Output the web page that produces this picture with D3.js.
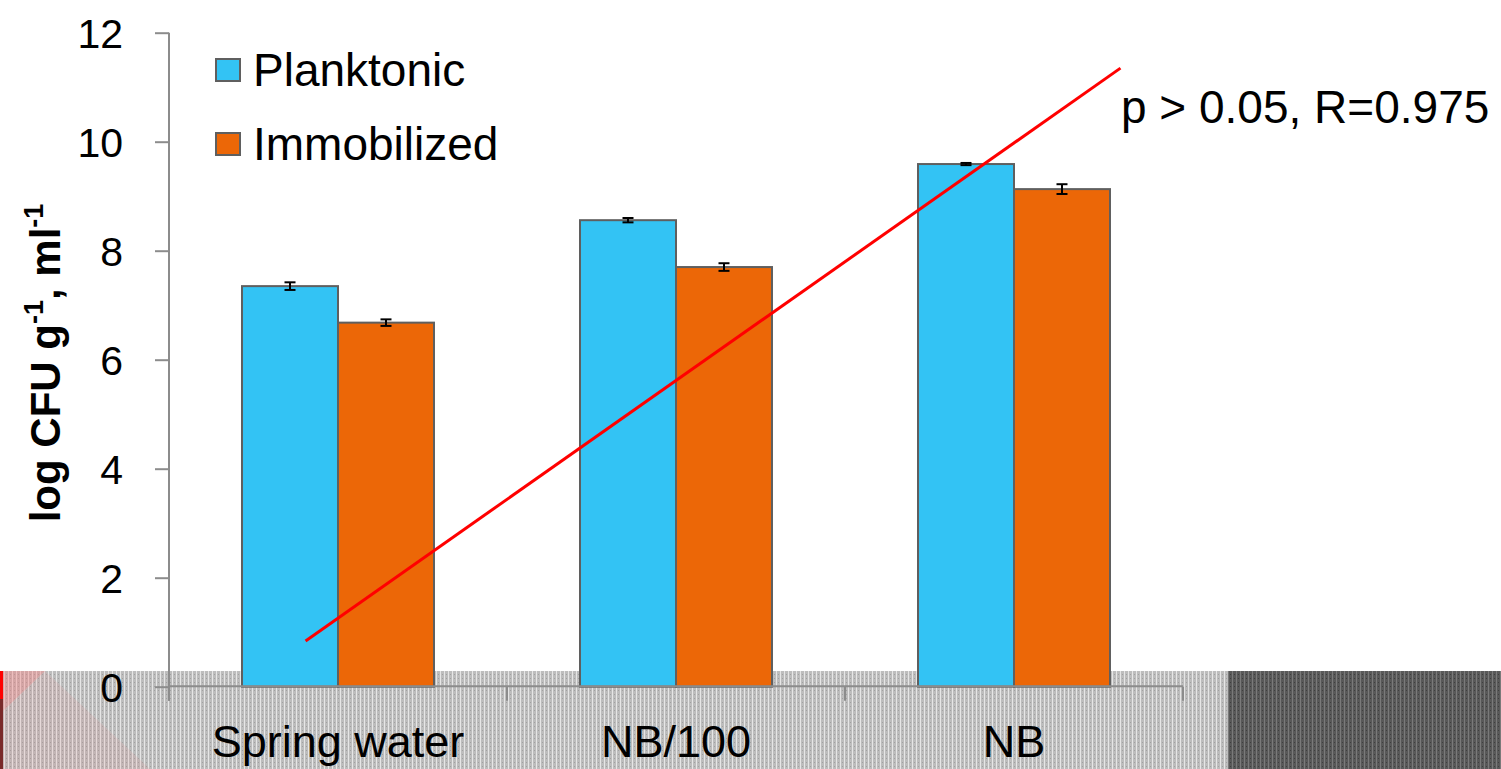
<!DOCTYPE html>
<html>
<head>
<meta charset="utf-8">
<script src="https://cdn.jsdelivr.net/npm/d3@7"></script>
<style>
  html, body { margin: 0; padding: 0; background: #ffffff; }
  svg { display: block; }
  text { font-family: "Liberation Sans", Arial, sans-serif; fill: #000; }
</style>
</head>
<body>
<svg id="chart" width="1501" height="769"></svg>
<script>
// ---------- data ----------
const categories = ["Spring water", "NB/100", "NB"];
const seriesNames = ["Planktonic", "Immobilized"];
const planktonic = [7.35, 8.56, 9.59];
const immobilized = [6.68, 7.70, 9.13];
const planktonicErr = [0.07, 0.04, 0.02];
const immobilizedErr = [0.06, 0.07, 0.09];
const yTicks = [0, 2, 4, 6, 8, 10, 12];
// trend line endpoints (x in category-index units, y in log CFU)
const trendX = [-0.096, 2.315];
const trendY = [0.84, 11.35];
const annotation = "p > 0.05, R=0.975";

const colors = ["#33c3f4", "#ec6707"];

// ---------- layout ----------
const svg = d3.select("#chart");
const W = 1501, H = 769;
const mLeft = 169, mRight = 1183, mTop = 32.7, mBottom = 686.7;

// background artefact band at bottom
const defs = svg.append("defs");
const bg = svg.append("g");
const pl = defs.append("pattern").attr("id", "pl").attr("width", 4).attr("height", 4).attr("patternUnits", "userSpaceOnUse");
pl.append("rect").attr("width", 4).attr("height", 4).attr("fill", "#bdbdbd");
pl.append("rect").attr("x", 0).attr("y", 0).attr("width", 1).attr("height", 4).attr("fill", "#e6e6e6");
pl.append("rect").attr("x", 2).attr("y", 2).attr("width", 1).attr("height", 1).attr("fill", "#a0a0a0");
const pd = defs.append("pattern").attr("id", "pd").attr("width", 4).attr("height", 4).attr("patternUnits", "userSpaceOnUse");
pd.append("rect").attr("width", 4).attr("height", 4).attr("fill", "#595959");
pd.append("rect").attr("x", 0).attr("y", 0).attr("width", 1).attr("height", 4).attr("fill", "#7a7a7a");
pd.append("rect").attr("x", 2).attr("y", 2).attr("width", 1).attr("height", 1).attr("fill", "#3e3e3e");

bg.append("rect").attr("x", 0).attr("y", 671).attr("width", 1228).attr("height", H - 671).attr("fill", "url(#pl)");
bg.append("rect").attr("x", 1228).attr("y", 671).attr("width", W - 1228).attr("height", H - 671).attr("fill", "url(#pd)");
bg.append("path").attr("d", "M0,671 L45,671 L150,769 L0,769 Z").attr("fill", "#e88080").attr("opacity", 0.13);
bg.append("path").attr("d", "M0,671 L45,671 L3,711 Z").attr("fill", "#ff8080").attr("opacity", 0.3);
bg.append("rect").attr("x", 0).attr("y", 671).attr("width", 3).attr("height", 28).attr("fill", "#ff0000");
bg.append("rect").attr("x", 0).attr("y", 699).attr("width", 3).attr("height", H - 699).attr("fill", "#7a2a2a");

// ---------- scales ----------
const x0 = d3.scaleBand().domain(categories).range([mLeft, mRight]).paddingInner(0.432).paddingOuter(0.216);
const x1 = d3.scaleBand().domain(seriesNames).range([0, x0.bandwidth()]).padding(0);
const y = d3.scaleLinear().domain([0, 12]).range([mBottom, mTop]);
const step = x0.step();
const xLin = d3.scaleLinear().domain([0, 2]).range([x0(categories[0]) + x0.bandwidth() / 2, x0(categories[2]) + x0.bandwidth() / 2]);

// ---------- y axis ----------
const yAxis = svg.append("g").attr("transform", `translate(${mLeft},0)`)
  .call(d3.axisLeft(y).tickValues(yTicks).tickSize(14).tickSizeOuter(0).tickPadding(32).tickFormat(d3.format("d")));
yAxis.select(".domain").attr("stroke", "#8c8c8c").attr("stroke-width", 2).attr("d", `M0,${mTop}V${mBottom + 14}`);
yAxis.selectAll(".tick line").attr("stroke", "#8c8c8c").attr("stroke-width", 2);
yAxis.selectAll(".tick text").attr("font-size", 41).attr("font-family", "Liberation Sans, Arial, sans-serif").attr("fill", "#000").attr("dy", "0.36em");

// ---------- bars ----------
const rows = categories.map((c, i) => ({
  cat: c,
  vals: [
    { s: seriesNames[0], v: planktonic[i], e: planktonicErr[i], c: colors[0] },
    { s: seriesNames[1], v: immobilized[i], e: immobilizedErr[i], c: colors[1] }
  ]
}));

const groups = svg.append("g").selectAll("g").data(rows).join("g")
  .attr("transform", d => `translate(${x0(d.cat)},0)`);
groups.selectAll("rect").data(d => d.vals).join("rect")
  .attr("x", d => x1(d.s))
  .attr("y", d => y(d.v))
  .attr("width", x1.bandwidth())
  .attr("height", d => y(0) - y(d.v))
  .attr("fill", d => d.c)
  .attr("stroke", "#5f5f5f")
  .attr("stroke-width", 2);

// error bars
const eb = groups.selectAll("g.err").data(d => d.vals).join("g").attr("class", "err");
eb.append("line")
  .attr("x1", d => x1(d.s) + x1.bandwidth() / 2).attr("x2", d => x1(d.s) + x1.bandwidth() / 2)
  .attr("y1", d => y(d.v + d.e)).attr("y2", d => y(d.v - d.e))
  .attr("stroke", "#000").attr("stroke-width", 2);
eb.selectAll("line.cap").data(d => [{ d, t: d.v + d.e }, { d, t: d.v - d.e }]).join("line").attr("class", "cap")
  .attr("x1", o => x1(o.d.s) + x1.bandwidth() / 2 - 5.5).attr("x2", o => x1(o.d.s) + x1.bandwidth() / 2 + 5.5)
  .attr("y1", o => y(o.t)).attr("y2", o => y(o.t))
  .attr("stroke", "#000").attr("stroke-width", 2);

// ---------- x axis ----------
const xg = svg.append("g");
xg.append("line").attr("x1", mLeft).attr("x2", mRight).attr("y1", mBottom - 0.5).attr("y2", mBottom - 0.5)
  .attr("stroke", "#8c8c8c").attr("stroke-width", 2);
const boundaries = categories.map(c => x0(c) - x0.paddingOuter() * step).concat([mRight]);
xg.selectAll("line.tk").data(boundaries).join("line").attr("class", "tk")
  .attr("x1", d => d).attr("x2", d => d).attr("y1", mBottom).attr("y2", mBottom + 14)
  .attr("stroke", "#8c8c8c").attr("stroke-width", 2);
xg.selectAll("text").data(categories).join("text")
  .attr("x", d => x0(d) + x0.bandwidth() / 2)
  .attr("y", 757)
  .attr("text-anchor", "middle")
  .attr("font-size", 45)
  .text(d => d);

// ---------- trend line ----------
svg.append("line")
  .attr("x1", xLin(trendX[0])).attr("y1", y(trendY[0]))
  .attr("x2", xLin(trendX[1])).attr("y2", y(trendY[1]))
  .attr("stroke", "#ff0000").attr("stroke-width", 3);

svg.append("text").attr("x", 1121).attr("y", 123).attr("font-size", 46).text(annotation);

// ---------- legend ----------
const lg = svg.append("g");
const legY = [70, 144];
seriesNames.forEach((s, i) => {
  lg.append("rect").attr("x", 216).attr("y", legY[i] - 11).attr("width", 24).attr("height", 22)
    .attr("fill", colors[i]).attr("stroke", "#5f5f5f").attr("stroke-width", 2);
  lg.append("text").attr("x", 253).attr("y", legY[i] + 16).attr("font-size", 46).text(s);
});

// ---------- y label ----------
const yl = svg.append("text")
  .attr("transform", "translate(60,363) rotate(-90)")
  .attr("text-anchor", "middle")
  .attr("font-size", 42)
  .attr("font-weight", "bold");
yl.append("tspan").text("log CFU g");
yl.append("tspan").attr("font-size", 27).attr("dy", -17).text("-1");
yl.append("tspan").attr("dy", 17).text(", ml");
yl.append("tspan").attr("font-size", 27).attr("dy", -17).text("-1");
</script>
</body>
</html>
